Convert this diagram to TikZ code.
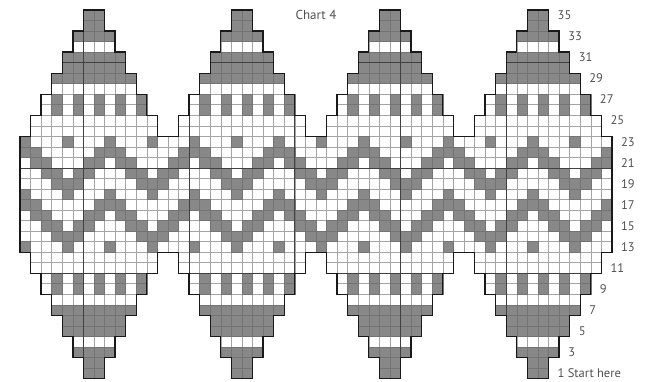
\documentclass[tikz,border=0pt]{standalone}
\usepackage{fontspec}
\setmainfont{PT Sans}
\definecolor{knitgray}{RGB}{136,136,136}
\definecolor{gridgray}{RGB}{165,165,165}
\definecolor{labelgray}{RGB}{80,80,80}

\def\chartpath{(0,12) -- (0,23)
  \foreach \cx in {7,21,35,49} { -- (\cx-6,23) -- (\cx-6,25) -- (\cx-5,25) -- (\cx-5,27) -- (\cx-4,27) -- (\cx-4,29)
    -- (\cx-3,29) -- (\cx-3,31) -- (\cx-2,31) -- (\cx-2,33) -- (\cx-1,33) -- (\cx-1,35) -- (\cx+1,35) -- (\cx+1,33)
    -- (\cx+2,33) -- (\cx+2,31) -- (\cx+3,31) -- (\cx+3,29) -- (\cx+4,29) -- (\cx+4,27) -- (\cx+5,27) -- (\cx+5,25)
    -- (\cx+6,25) -- (\cx+6,23) } -- (56,23) -- (56,12)
  \foreach \cx in {49,35,21,7} { -- (\cx+6,12) -- (\cx+6,10) -- (\cx+5,10) -- (\cx+5,8) -- (\cx+4,8) -- (\cx+4,6)
    -- (\cx+3,6) -- (\cx+3,4) -- (\cx+2,4) -- (\cx+2,2) -- (\cx+1,2) -- (\cx+1,0) -- (\cx-1,0) -- (\cx-1,2)
    -- (\cx-2,2) -- (\cx-2,4) -- (\cx-3,4) -- (\cx-3,6) -- (\cx-4,6) -- (\cx-4,8) -- (\cx-5,8) -- (\cx-5,10)
    -- (\cx-6,10) -- (\cx-6,12) } -- cycle}

\begin{document}
\begin{tikzpicture}[x=10.57pt,y=10.53pt,line join=miter,
  cellw/.style={draw=gridgray,line width=0.6pt,fill=white},
  cellg/.style={draw=black!55,line width=0.6pt,fill=knitgray},
  tenline/.style={draw=black!75,line width=0.7pt},
  outline/.style={draw=black!90,line width=1.3pt},
  rowlabel/.style={anchor=west,inner sep=0pt,text=labelgray,font=\fontsize{12.5}{13}\selectfont}]
\useasboundingbox (-1.892,-0.323) rectangle (59.79,35.95);
% all stitches of the four baubles
\foreach \m in {0,...,3} {
  \foreach \r/\h in {1/1,2/1,3/2,4/2,5/3,6/3,7/4,8/4,9/5,10/5,11/6,12/6,13/7,14/7,15/7,16/7,17/7,18/7,
                     19/7,20/7,21/7,22/7,23/7,24/6,25/6,26/5,27/5,28/4,29/4,30/3,31/3,32/2,33/2,34/1,35/1} {
    \pgfmathtruncatemacro\ca{14*\m+7-\h}
    \pgfmathtruncatemacro\cb{14*\m+6+\h}
    \foreach \c in {\ca,...,\cb} \draw[cellw] (\c,\r-1) rectangle ++(1,1);
  }
  % solid rows
  \foreach \r/\h in {1/1,2/1,3/2,5/3,6/3,7/4,29/4,30/3,31/3,33/2,34/1,35/1} {
    \pgfmathtruncatemacro\ca{14*\m+7-\h}
    \pgfmathtruncatemacro\cb{14*\m+6+\h}
    \foreach \c in {\ca,...,\cb} \draw[cellg] (\c,\r-1) rectangle ++(1,1);
  }
  % vertical dashes
  \foreach \r in {9,10,26,27}
    \foreach \c in {3,5,7,9,11} \draw[cellg] (14*\m+\c,\r-1) rectangle ++(1,1);
}
% zigzag band, 8 stitch repeat
\foreach \r/\cols in {23/{0,4},22/{7,0,1},21/{6,7,1,2},20/{5,6,2,3},19/{3,4,5},18/{0,4},
                      17/{7,0,1},16/{6,7,1,2},15/{5,6,2,3},14/{3,4,5},13/{0,4}}
  \foreach \k in {0,...,6}
    \foreach \c in \cols \draw[cellg] (8*\k+\c,\r-1) rectangle ++(1,1);
% every tenth line
\begin{scope}
\clip \chartpath;
\foreach \c in {6,16,26,36,46} \draw[tenline] (\c,0) -- (\c,35);
\foreach \r in {10,20,30} \draw[tenline] (0,\r) -- (56,\r);
\end{scope}
\draw[outline] \chartpath;
% row numbers
\foreach \r/\h in {3/2,5/3,7/4,9/5,11/6,13/7,15/7,17/7,19/7,21/7,23/7,25/6,27/5,29/4,31/3,33/2,35/1}
  \node[rowlabel] (row\r) at (49+\h+0.85,\r-0.5) {\r};
\node[rowlabel] (row1) at (50.85,0.5) {1 Start here};
\node[inner sep=0pt,text=labelgray,font=\fontsize{13}{14}\selectfont] (title) at (28,34.5) {Chart 4};
\end{tikzpicture}
\end{document}
